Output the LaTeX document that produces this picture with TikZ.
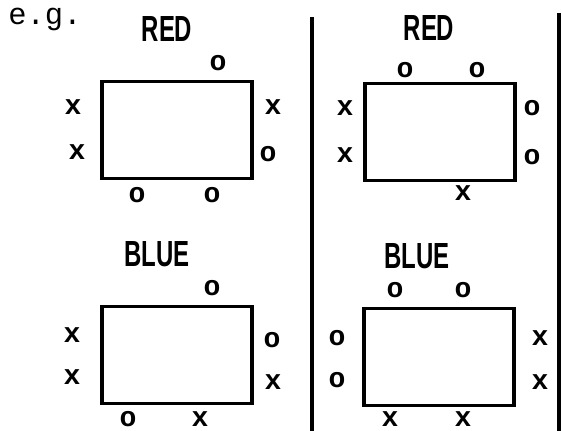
\documentclass[tikz,border=0pt]{standalone}
\usepackage{fontspec}
\setmainfont{Liberation Sans}
\setmonofont{Liberation Mono}
\usepackage{tikz}
\usetikzlibrary{calc}

\begin{document}
\begin{tikzpicture}[x=0.03cm, y=-0.03cm,
    box/.style={draw, line width=2.8pt, minimum width=4.5cm, minimum height=2.9cm, inner sep=0pt},
    sym/.style={inner sep=0pt, font=\ttfamily\bfseries\fontsize{24}{24}\selectfont},
    title/.style={inner sep=0pt, font=\bfseries\fontsize{31}{31}\selectfont, xscale=0.66},
    divider/.style={line width=2.8pt}]
  \useasboundingbox (0,0) rectangle (562,431);
  \node[inner sep=0pt, font=\ttfamily\fontsize{26}{26}\selectfont] (eg) at (45,19) {e.g.};
  % red, left
  \node[title] (redL) at (167,29) {RED};
  \node[box] (boxRL) at (177,130) {};
  \foreach \px/\py/\s [count=\i] in {218/63/o, 73/107/x, 77/152/x, 273/107/x, 268/154/o, 137/195/o, 212/195/o}
    \node[sym] (rl\i) at (\px,\py) {\s};
  % red, right
  \node[title] (redR) at (429,28) {RED};
  \node[box] (boxRR) at (440,132) {};
  \foreach \px/\py/\s [count=\i] in {405/70/o, 477/70/o, 345/108/x, 345/155/x, 532/108/o, 532/157/o, 463/193/x}
    \node[sym] (rr\i) at (\px,\py) {\s};
  % blue, left
  \node[title] (blueL) at (157,254) {BLUE};
  \node[box] (boxBL) at (177,355) {};
  \foreach \px/\py/\s [count=\i] in {212/288/o, 72/335/x, 72/377/x, 272/340/o, 273/382/x, 128/419/o, 200/419/x}
    \node[sym] (bl\i) at (\px,\py) {\s};
  % blue, right
  \node[title] (blueR) at (417,256) {BLUE};
  \node[box] (boxBR) at (439,357) {};
  \foreach \px/\py/\s [count=\i] in {395/290/o, 463/290/o, 337/338/o, 337/380/o, 540/338/x, 540/382/x, 390/419/x, 463/419/x}
    \node[sym] (br\i) at (\px,\py) {\s};
  % dividers
  \coordinate (midTop) at (312,17);
  \coordinate (midBot) at (312,431);
  \coordinate (edgeTop) at (559,13);
  \coordinate (edgeBot) at (559,431);
  \draw[divider] (midTop) -- (midBot);
  \draw[divider] (edgeTop) -- (edgeBot);
\end{tikzpicture}
\end{document}
